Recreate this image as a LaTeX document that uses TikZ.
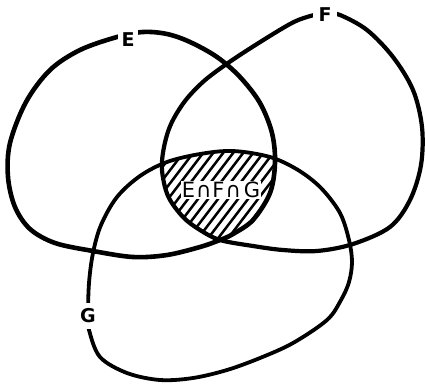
\documentclass[tikz,border=0pt]{standalone}
\usepackage{fontspec}
\setmainfont{DejaVu Sans}
\begin{document}
\newcommand\curveE{plot[smooth cycle, tension=0.55] coordinates {(117,37) (143,32) (167,34) (190,42) (217,57) (240,77) (260,103) (272,133) (275,163) (270,193) (253,220) (233,234) (220,240) (200,247) (167,255) (133,257) (93,251) (55,243) (30,229) (15,207) (8,177) (10,143) (26,102) (50,70) (80,50)}}
\newcommand\curveF{plot[smooth cycle, tension=0.55] coordinates {(290,24) (307,17) (325,13) (340,15) (367,30) (393,57) (413,90) (422,127) (421,165) (410,200) (390,227) (353,244) (317,251) (283,250) (253,246) (220,240) (200,230) (183,217) (168,196) (162,170) (164,147) (171,124) (185,101) (204,81) (228,63) (257,44)}}
\newcommand\curveG{plot[smooth cycle, tension=0.55] coordinates {(88,316) (89,330) (100,357) (127,373) (160,380) (193,378) (227,370) (260,358) (293,343) (327,320) (341,300) (349,282) (352,262) (349,240) (340,213) (321,188) (298,170) (270,157) (233,151) (200,154) (167,162) (140,176) (117,197) (101,225) (93,253) (89,283)}}
\begin{tikzpicture}[x=1pt,y=-1pt,
  setline/.style={line width=#1, line join=round},
  hatchline/.style={line width=2.5pt},
  setlabel/.style={fill=white, font=\bfseries\fontsize{19}{19}\selectfont, inner sep=4pt},
  midlabel/.style={fill=white, font=\fontsize{21}{21}\selectfont, inner xsep=1pt, inner ysep=1pt}]
\useasboundingbox (0,0) rectangle (425,386);
% hatching of the triple intersection
\begin{scope}
  \clip \curveE;
  \clip \curveF;
  \clip \curveG;
  \foreach \i in {0,...,22} {
    \draw[hatchline] (60+\i*10,262) -- ++(90,-118);
  }
\end{scope}
\node[midlabel] (efg) at (221,190) {E\kern1pt∩\kern1pt F\kern1pt∩\kern3pt G};
% the three sets
\draw[setline=4.6pt] \curveE;
\draw[setline=4.2pt] \curveF;
\draw[setline=3.8pt] \curveG;
% labels (white fill leaves the gap in each curve)
\node[setlabel, inner xsep=4pt] (lE) at (128,40) {E};
\node[setlabel, inner xsep=6pt, inner ysep=3pt] (lF) at (325,15) {F};
\node[setlabel, inner ysep=6pt, inner xsep=3pt] (lG) at (88,316) {G};
\end{tikzpicture}
\end{document}
